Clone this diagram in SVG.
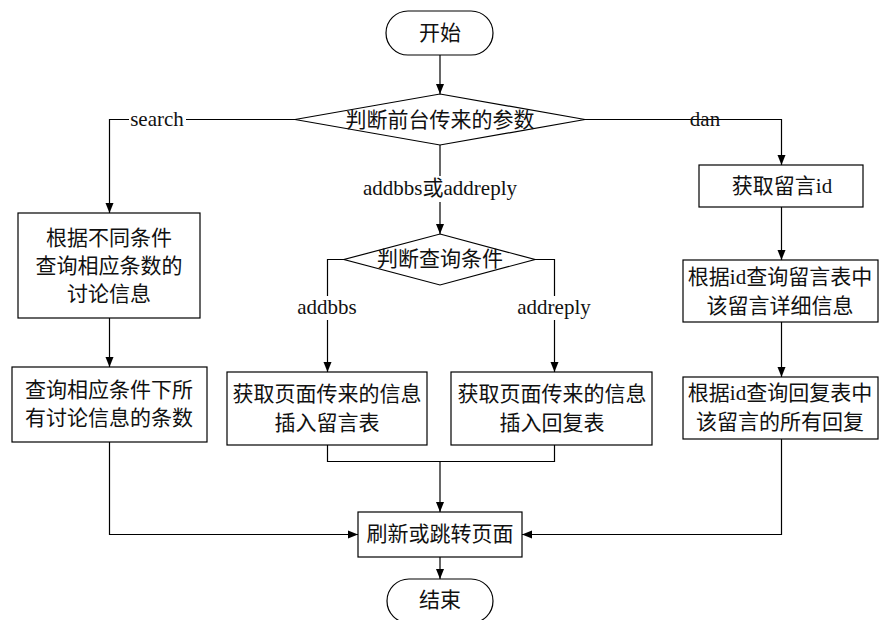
<svg xmlns="http://www.w3.org/2000/svg" width="880" height="620" viewBox="0 0 880 620">
<defs>
<marker id="arr" markerUnits="userSpaceOnUse" markerWidth="10" markerHeight="10" refX="10" refY="5" orient="auto">
<path d="M0,1 L10,5 L0,9 Z" fill="#000"/>
</marker>
<style>
.n{fill:#fff;stroke:#000;stroke-width:1.2}
.t{font-family:"Liberation Serif","Noto Sans CJK SC",serif;font-size:21px;fill:#111;text-anchor:middle;dominant-baseline:central}
.c{fill:none;stroke:#000;stroke-width:1.2}
.a{marker-end:url(#arr)}
</style>
</defs>
<rect width="880" height="620" fill="#fff"/>
<g id="connectors">
<path class="c a" d="M440,55 V94"/>
<path class="c" d="M295,119.5 H186"/>
<path class="c a" d="M129,119.5 H109.5 V213"/>
<path class="c" d="M585,119.5 H722"/>
<path class="c a" d="M688,119.5 H781.5 V165"/>
<path class="c" d="M440,145 V176"/>
<path class="c a" d="M440,202 V234"/>
<path class="c" d="M344,259.5 H327.5 V296"/>
<path class="c a" d="M327.5,320 V372"/>
<path class="c" d="M535,259.5 H554.5 V296"/>
<path class="c a" d="M554.5,320 V372"/>
<path class="c a" d="M109.5,318 V367"/>
<path class="c a" d="M109.5,442 V534.5 H358"/>
<path class="c" d="M327.5,445 V461.5 H554.5 V445"/>
<path class="c a" d="M440,461.5 V512"/>
<path class="c a" d="M781.5,207 V260"/>
<path class="c a" d="M781.5,322 V377"/>
<path class="c a" d="M781.5,439 V534.5 H522"/>
<path class="c a" d="M440,557 V579"/>
<text class="t" x="157" y="119">search</text>
<text class="t" x="705" y="119">dan</text>
<text class="t" x="440" y="188">addbbs或addreply</text>
<text class="t" x="327" y="307">addbbs</text>
<text class="t" x="554" y="307">addreply</text>
</g>
<g id="start">
<rect class="n" x="386" y="11" width="107" height="44" rx="22" ry="22"/>
<text class="t" x="440" y="33">开始</text>
</g>
<g id="decision1">
<polygon class="n" points="440,94 585,119.5 440,145 295,119.5"/>
<text class="t" x="440" y="120">判断前台传来的参数</text>
</g>
<g id="search1">
<rect class="n" x="18" y="213" width="182" height="105"/>
<text class="t" x="109" y="238">根据不同条件</text>
<text class="t" x="109" y="266">查询相应条数的</text>
<text class="t" x="109" y="294">讨论信息</text>
</g>
<g id="search2">
<rect class="n" x="12" y="367" width="195" height="75"/>
<text class="t" x="109" y="390">查询相应条件下所</text>
<text class="t" x="109" y="418">有讨论信息的条数</text>
</g>
<g id="decision2">
<polygon class="n" points="440,234 535,259.5 440,285 344,259.5"/>
<text class="t" x="440" y="259">判断查询条件</text>
</g>
<g id="addbbs">
<rect class="n" x="227" y="372" width="200" height="73"/>
<text class="t" x="327" y="394">获取页面传来的信息</text>
<text class="t" x="327" y="423">插入留言表</text>
</g>
<g id="addreply">
<rect class="n" x="451" y="372" width="201" height="73"/>
<text class="t" x="552" y="394">获取页面传来的信息</text>
<text class="t" x="552" y="423">插入回复表</text>
</g>
<g id="dan1">
<rect class="n" x="699" y="165" width="164" height="42"/>
<text class="t" x="782" y="186">获取留言id</text>
</g>
<g id="dan2">
<rect class="n" x="683" y="260" width="195" height="62"/>
<text class="t" x="780" y="277">根据id查询留言表中</text>
<text class="t" x="780" y="306">该留言详细信息</text>
</g>
<g id="dan3">
<rect class="n" x="683" y="377" width="195" height="62"/>
<text class="t" x="780" y="393">根据id查询回复表中</text>
<text class="t" x="780" y="422">该留言的所有回复</text>
</g>
<g id="refresh">
<rect class="n" x="358" y="512" width="164" height="45"/>
<text class="t" x="440" y="534">刷新或跳转页面</text>
</g>
<g id="end">
<rect class="n" x="387" y="579" width="106" height="44" rx="22" ry="22"/>
<text class="t" x="440" y="600">结束</text>
</g>
</svg>
